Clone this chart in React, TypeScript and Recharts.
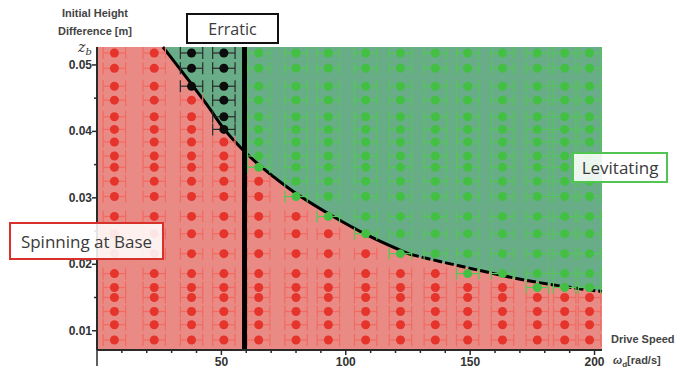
import React from "react";
import {
  ComposedChart,
  XAxis,
  YAxis,
  CartesianGrid,
  Area,
  Line,
  Scatter,
  ErrorBar,
  ReferenceLine,
} from "recharts";

// drive speed columns [rad/s] and initial height rows [m] of the test grid
const speeds = [7, 23, 38, 51, 65, 80, 93, 108, 122, 136, 149, 163, 177, 188, 198];
const heights = [
  0.0518, 0.0495, 0.0468, 0.0447, 0.0422, 0.0403, 0.0384, 0.0363, 0.0346, 0.0325,
  0.0302, 0.0272, 0.0246, 0.0216, 0.0186, 0.0165, 0.015, 0.0129, 0.0109, 0.0086,
];
// per speed column: how many rows (counted from the top) levitated / were erratic
const levitatingRows = [0, 0, 0, 0, 9, 11, 12, 13, 14, 14, 15, 15, 16, 16, 16];
const erraticRows = [0, 0, 3, 6, 0, 0, 0, 0, 0, 0, 0, 0, 0, 0, 0];
const speedError = 4.5;

// fitted levitation boundary
const boundarySpeed = [26.5, 37.4, 44.6, 50.6, 60.3, 64.7, 77.6, 93.6, 109.7, 125.8, 148.7, 175.2, 203];
const boundaryHeight = [
  0.0527, 0.0474, 0.0438, 0.0406, 0.0366, 0.0351, 0.0313, 0.0275, 0.0242, 0.0215, 0.0195, 0.0174,
  0.0159,
];
const dashedFrom = 125.8;
const erraticLimit = 59.3;

const xTicks = [0, 10, 20, 30, 40, 50, 60, 70, 80, 90, 100, 110, 120, 130, 140, 150, 160, 170, 180, 190, 200];
const yTicks = [0.01, 0.015, 0.02, 0.025, 0.03, 0.035, 0.04, 0.045, 0.05];

const X_MAX = 203;
const Y_MIN = 0.0071;
const Y_MAX = 0.0527;

type Run = { speed: number; height: number; err: number };
const spinning: Run[] = [];
const levitating: Run[] = [];
const erratic: Run[] = [];
speeds.forEach((speed, i) =>
  heights.forEach((height, j) => {
    const run = { speed, height, err: speedError };
    if (j < erraticRows[i]) erratic.push(run);
    else if (j < levitatingRows[i]) levitating.push(run);
    else spinning.push(run);
  })
);

const boundary = boundarySpeed.map((speed, i) => ({
  speed,
  height: boundaryHeight[i],
  solid: speed <= dashedFrom ? boundaryHeight[i] : null,
  dashed: speed >= dashedFrom ? boundaryHeight[i] : null,
}));

const tickFont = { fontFamily: "Liberation Sans, Arial, sans-serif", fontWeight: 700, fontSize: 12, fill: "#333" };

const XTick = (props: any) => {
  const { x, y, payload } = props;
  const v = payload.value;
  const major = v % 50 === 0;
  return (
    <g>
      <line x1={x} x2={x} y1={y} y2={y + (v === 0 ? 16 : major ? 5 : 3)} stroke="#2a2a2a" strokeWidth={1.5} />
      {major && v > 0 && (
        <text x={x} y={y + 16} textAnchor="middle" {...tickFont}>
          {v}
        </text>
      )}
    </g>
  );
};

const YTick = (props: any) => {
  const { x, y, payload } = props;
  const v = payload.value;
  const major = Math.abs((v * 100) % 1) < 1e-6 || Math.abs((v * 100) % 1 - 1) < 1e-6;
  return (
    <g>
      <line x1={x - (major ? 5 : 3)} x2={x} y1={y} y2={y} stroke="#2a2a2a" strokeWidth={1.5} />
      {major && (
        <text x={x - 5} y={y + 4} textAnchor="end" {...tickFont}>
          {v.toFixed(2)}
        </text>
      )}
    </g>
  );
};

const dot = (fill: string) => (p: any) => <circle cx={p.cx} cy={p.cy} r={4.5} fill={fill} />;

const axisTitle: React.CSSProperties = {
  position: "absolute",
  fontFamily: "Liberation Sans, Arial, sans-serif",
  fontWeight: 700,
  fontSize: 11,
  lineHeight: "13px",
  color: "#444",
  whiteSpace: "nowrap",
};

const box = (border: string): React.CSSProperties => ({
  position: "absolute",
  boxSizing: "border-box",
  border: `2px solid ${border}`,
  background: "rgba(255,255,255,0.88)",
  fontFamily: "Open Sans, sans-serif",
  color: "#3a3a3a",
  display: "flex",
  alignItems: "center",
  justifyContent: "center",
  whiteSpace: "nowrap",
});

export default function App() {
  return (
    <div style={{ position: "absolute", left: 0, top: 0, width: 680, height: 370, background: "#fff" }}>
      <ComposedChart
        width={680}
        height={370}
        data={boundary}
        margin={{ top: 47, right: 78, bottom: 0, left: 37 }}
      >
        <CartesianGrid horizontal={false} vertical={false} fill="#e98a84" fillOpacity={1} />
        <XAxis
          type="number"
          dataKey="speed"
          domain={[0, X_MAX]}
          ticks={xTicks}
          interval={0}
          height={20}
          tick={<XTick />}
          tickLine={false}
          tickSize={0}
          tickMargin={0}
          axisLine={{ stroke: "#2a2a2a", strokeWidth: 2 }}
        />
        <YAxis
          type="number"
          domain={[Y_MIN, Y_MAX]}
          ticks={yTicks}
          interval={0}
          width={60}
          tick={<YTick />}
          tickLine={false}
          tickSize={0}
          tickMargin={0}
          axisLine={{ stroke: "#2a2a2a", strokeWidth: 2 }}
        />
        <Area
          type="monotone"
          dataKey="height"
          baseValue={Y_MAX}
          stroke="none"
          fill="#68ad87"
          fillOpacity={1}
          isAnimationActive={false}
        />
        <Line
          type="monotone"
          dataKey="solid"
          stroke="#000"
          strokeWidth={3}
          dot={false}
          activeDot={false}
          isAnimationActive={false}
        />
        <Line
          type="monotone"
          dataKey="dashed"
          stroke="#000"
          strokeWidth={3}
          strokeDasharray="9 3"
          dot={false}
          activeDot={false}
          isAnimationActive={false}
        />
        <Scatter data={spinning} dataKey="height" shape={dot("#e5342b")} isAnimationActive={false}>
          <ErrorBar dataKey="err" direction="x" width={6} stroke="#f26a62" strokeWidth={1.2} />
        </Scatter>
        <Scatter data={levitating} dataKey="height" shape={dot("#43c043")} isAnimationActive={false}>
          <ErrorBar dataKey="err" direction="x" width={6} stroke="#52c952" strokeWidth={1.2} />
        </Scatter>
        <Scatter data={erratic} dataKey="height" shape={dot("#0c0c0c")} isAnimationActive={false}>
          <ErrorBar dataKey="err" direction="x" width={6} stroke="#2a2a2a" strokeWidth={1.2} />
        </Scatter>
        <ReferenceLine x={erraticLimit} stroke="#000" strokeWidth={5} />
      </ComposedChart>

      <div style={{ ...axisTitle, left: 55, top: 7, width: 80, textAlign: "center" }}>Initial Height</div>
      <div style={{ ...axisTitle, left: 55, top: 25, width: 80, textAlign: "center" }}>Difference [m]</div>
      <div
        style={{
          position: "absolute",
          left: 78,
          top: 41,
          fontFamily: "DejaVu Serif, serif",
          fontSize: 14,
          color: "#333",
          lineHeight: "13px",
        }}
      >
        <i>z</i>
        <i style={{ fontSize: 10, position: "relative", top: 3 }}>b</i>
      </div>
      <div style={{ ...axisTitle, left: 611, top: 333 }}>Drive Speed</div>
      <div style={{ ...axisTitle, left: 613, top: 354 }}>
        <i>ω</i>
        <sub style={{ fontSize: 8 }}>d</sub>[rad/s]
      </div>

      <div style={{ ...box("#111"), left: 186, top: 13, width: 93, height: 31, fontSize: 16 }}>Erratic</div>
      <div style={{ ...box("#d8302a"), left: 9, top: 222, width: 155, height: 38, fontSize: 17 }}>
        Spinning at Base
      </div>
      <div style={{ ...box("#52c452"), left: 572, top: 152, width: 96, height: 31, fontSize: 17 }}>
        Levitating
      </div>
    </div>
  );
}
